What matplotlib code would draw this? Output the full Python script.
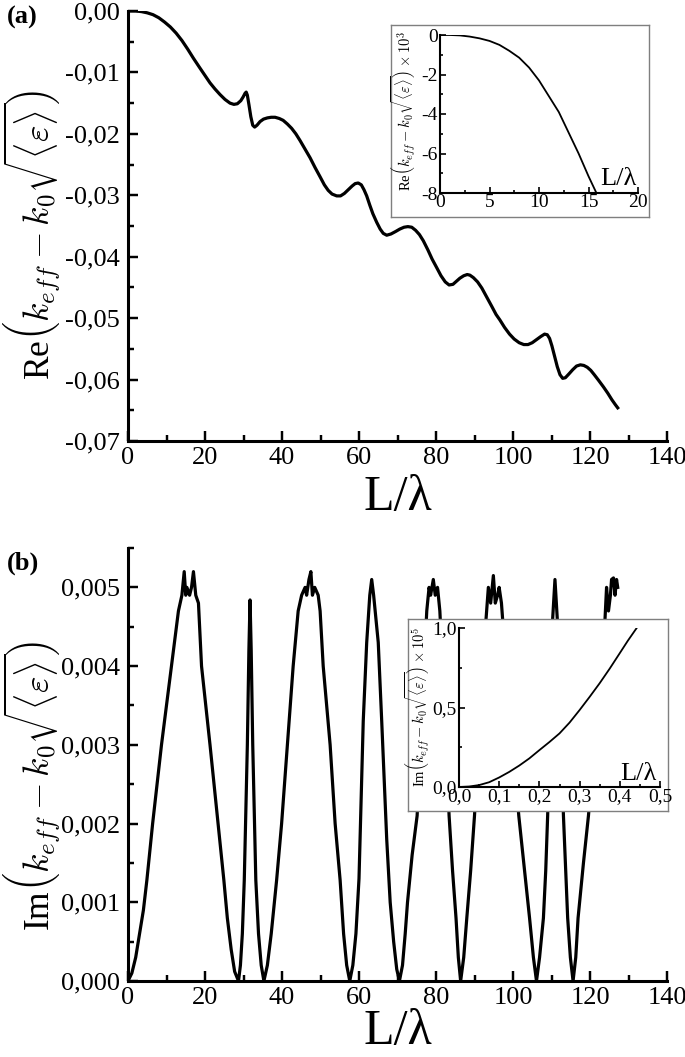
import numpy as np
import matplotlib
matplotlib.use("Agg")
import matplotlib.pyplot as plt
from matplotlib.ticker import MultipleLocator, FuncFormatter

# ============================================================
# Data
# ============================================================

# (a) Re(k_eff - k0 sqrt<eps>) vs L/lambda
re_x = [0, 2, 3.5, 5, 6.5, 8, 9.5, 11, 12.5, 14, 15.5, 17, 18.7, 20, 21.3, 22.6,
        23.9, 25.2, 26.5, 27.5, 28.4, 29.3, 29.9, 30.4, 30.7, 31.0, 31.4, 31.9,
        32.4, 32.9, 33.5, 34.3, 35.2, 36.2, 37.2, 38.2, 39.3, 40.3, 41.4, 42.5,
        43.6, 44.7, 46.0, 47.3, 48.6, 49.9, 51.0, 52.0, 53.0, 54.2, 55.2, 56.2,
        57.2, 58.2, 59.0, 59.8, 60.6, 61.3, 62.0, 62.8, 63.6, 64.6, 65.5, 66.3,
        67.2, 68.3, 69.5, 70.6, 71.7, 72.7, 73.7, 74.7, 75.7, 76.7, 77.9, 79.0,
        80.2, 81.3, 82.4, 83.4, 84.4, 85.3, 86.2, 87.2, 88.1, 88.8, 89.7, 90.8,
        91.9, 93.2, 94.5, 95.6, 96.6, 97.8, 99.1, 100.3, 101.6, 102.8, 103.9,
        105.0, 106.1, 107.2, 108.2, 108.9, 109.5, 110.1, 110.8, 111.5, 112.2,
        112.9, 113.6, 114.5, 115.5, 116.5, 117.5, 118.4, 119.3, 120.2, 121.1,
        122.2, 123.5, 124.6, 125.7, 126.6, 127.2]
re_y = [0, 0, -0.0001, -0.0003, -0.0006, -0.0011, -0.0018, -0.0026, -0.0036,
        -0.0048, -0.0062, -0.0077, -0.0093, -0.0105, -0.0117, -0.0127, -0.0136,
        -0.0144, -0.0150, -0.0152, -0.0151, -0.0146, -0.0140, -0.0134, -0.0132,
        -0.0137, -0.0152, -0.0172, -0.0186, -0.0189, -0.0186, -0.0180, -0.0176,
        -0.0174, -0.0173, -0.0173, -0.0175, -0.0178, -0.0184, -0.0191, -0.0200,
        -0.0211, -0.0225, -0.0239, -0.0255, -0.0270, -0.0283, -0.0292, -0.0298,
        -0.0301, -0.0301, -0.0297, -0.0291, -0.0285, -0.0281, -0.0280, -0.0283,
        -0.0291, -0.0301, -0.0316, -0.0330, -0.0344, -0.0355, -0.0362, -0.0365,
        -0.0363, -0.0359, -0.0355, -0.0352, -0.0351, -0.0352, -0.0357, -0.0364,
        -0.0374, -0.0389, -0.0404, -0.0418, -0.0431, -0.0441, -0.0446, -0.0445,
        -0.0440, -0.0435, -0.0431, -0.0429, -0.0430, -0.0434, -0.0441, -0.0451,
        -0.0466, -0.0481, -0.0494, -0.0503, -0.0515, -0.0526, -0.0534, -0.0540,
        -0.0543, -0.0543, -0.0540, -0.0535, -0.0530, -0.0526, -0.0527, -0.0533,
        -0.0545, -0.0562, -0.0579, -0.0592, -0.0598, -0.0597, -0.0591, -0.0584,
        -0.0578, -0.0576, -0.0577, -0.0580, -0.0585, -0.0592, -0.0601, -0.0612,
        -0.0622, -0.0633, -0.0641, -0.0646]

# (a) inset, values x 10^3
re_in_x = [0, 1, 2, 3, 4, 5, 6, 7, 8, 9, 10, 11, 12, 13, 14, 15, 15.8]
re_in_y = [0, 0, -0.02, -0.08, -0.17, -0.3, -0.5, -0.8, -1.15, -1.65, -2.3,
           -3.1, -3.9, -4.95, -6.0, -7.15, -8.0]

# (b) Im(k_eff - k0 sqrt<eps>) vs L/lambda
im_x = [0, 1, 2, 3, 4, 4.9, 6.4, 8.7, 11.3, 13.1, 14.0, 14.6, 15.0, 15.3, 16.0,
        16.5, 17.0, 17.6, 18.3, 19.1, 21.3, 23.4, 24.9, 25.8, 26.8, 27.7, 28.7,
        29.2, 29.7, 30.2, 31.0, 31.4, 31.7, 32.0, 32.4, 33.2, 33.9, 34.6, 35.3,
        36.2, 37.2, 38.6, 39.9, 41.4, 42.9, 44.2, 45.1, 46.0, 46.4, 47.0, 47.5,
        47.9, 48.5, 49.4, 49.9, 50.7, 52.5, 53.8, 55.1, 56.0, 56.8, 57.6,
        58.4, 59.2, 60.0, 61.1, 62.0, 62.8, 63.3, 63.8, 65.0, 65.9, 67.2, 68.1,
        69.0, 69.8, 70.5,
        71.3, 72.0, 72.6, 73.8, 75.1, 76.4, 77.6, 78.2, 78.6, 79.3, 79.8, 80.4,
        81.0, 82.2, 83.4, 84.3, 85.2, 85.8, 86.4,
        87.2, 88.0, 89.0, 90.0, 91.5, 93.0, 93.6, 94.2, 94.9, 95.4, 96.0, 96.4,
        97.0, 97.3, 99.4, 101.5, 103.0, 104.3, 105.3, 106.1,
        106.9, 107.9, 108.5, 109.0, 109.7, 110.3, 110.9, 111.5, 112.3, 113.1,
        113.7, 114.2, 114.9, 115.6,
        116.3, 116.9, 118.3, 119.6, 121.8, 123.9, 124.3, 124.8, 125.3, 125.6,
        126.1, 126.5, 126.9, 127.2]
im_y = [0, 0.0001, 0.0003, 0.0006, 0.0009, 0.00128, 0.0020, 0.0030, 0.0040,
        0.0047, 0.0049, 0.0052, 0.0049, 0.0050, 0.0049, 0.0050, 0.0052, 0.0049,
        0.0048, 0.0040, 0.0030, 0.0020, 0.00128, 0.0008, 0.0004, 0.00012, 0,
        0.0002, 0.0006, 0.00128, 0.0030, 0.0042, 0.00484, 0.0042, 0.0030,
        0.00128, 0.0006, 0.0002, 0,
        0.0002, 0.0006, 0.00128, 0.0020, 0.0030, 0.0040, 0.0047, 0.0049, 0.0050,
        0.0049, 0.0051, 0.0052, 0.0049, 0.0050, 0.0049, 0.0047, 0.0040, 0.0030,
        0.0020, 0.00128, 0.0006, 0.0002, 0,
        0.0002, 0.0006, 0.0013, 0.0033, 0.0043, 0.0049, 0.0051, 0.0049, 0.0043,
        0.0033, 0.0018, 0.0010, 0.0005, 0.00015, 0,
        0.0002, 0.0006, 0.0010, 0.0016, 0.0021, 0.0035, 0.0047, 0.0050, 0.0049,
        0.0051, 0.0049, 0.0050, 0.0047, 0.0035, 0.0021, 0.0014, 0.0008, 0.0003,
        0,
        0.0003, 0.0008, 0.0014, 0.0021, 0.0034, 0.0046, 0.0050, 0.0048, 0.00515,
        0.0048, 0.0049, 0.0050, 0.0048, 0.0046, 0.0034, 0.0021, 0.0014, 0.0008,
        0.0003, 0,
        0.0003, 0.0008, 0.0014, 0.0021, 0.0034, 0.0046, 0.0051, 0.0046, 0.0034,
        0.0021, 0.0014, 0.0008, 0.0003, 0,
        0.0003, 0.0008, 0.0015, 0.0021, 0.0034, 0.0046, 0.0050, 0.0047, 0.0049,
        0.0051, 0.00512, 0.0049, 0.0051, 0.0050]

# (b) inset, values x 10^5
im_in_x = [0, 0.025, 0.05, 0.075, 0.1, 0.125, 0.15, 0.175, 0.2, 0.225, 0.25,
           0.275, 0.3, 0.325, 0.35, 0.375, 0.4, 0.42, 0.442]
im_in_y = [0, 0.003, 0.012, 0.03, 0.06, 0.095, 0.135, 0.18, 0.232, 0.283, 0.337,
           0.405, 0.484, 0.567, 0.653, 0.745, 0.842, 0.92, 1.0]

W, H = 685, 1057

MATH = r"\left(k_{eff}-k_0\sqrt{\langle\varepsilon\rangle}\right)"
RE_LABEL = "Re$" + MATH + "$"
IM_LABEL = "Im$" + MATH + "$"
RE_IN_LABEL = "Re$" + MATH + r"\times10^3$"
IM_IN_LABEL = "Im$" + MATH + r"\times10^5$"


def comma(fmt):
    return FuncFormatter(lambda v, pos: (fmt % v).replace(".", ","))


def style_axes(ax, lw, major, minor, size, xpad, ypad):
    for s in ["top", "right"]:
        ax.spines[s].set_visible(False)
    for s in ["left", "bottom"]:
        ax.spines[s].set_linewidth(lw)
    ax.tick_params(which="major", direction="in", length=major, width=lw * 0.8,
                   labelsize=size)
    ax.tick_params(which="minor", direction="in", length=minor, width=lw * 0.8)
    ax.tick_params(axis="x", which="major", pad=xpad)
    ax.tick_params(axis="y", which="major", pad=ypad)


def px_box(x0, y0, x1, y1):
    return [x0 / W, 1 - y1 / H, (x1 - x0) / W, (y1 - y0) / H]


def frame(fig, rect):
    f = fig.add_axes(rect)
    f.set_xticks([])
    f.set_yticks([])
    for s in f.spines.values():
        s.set_color("#7f7f7f")
        s.set_linewidth(1.0)
    return f


plt.rcParams["font.family"] = ["Liberation Serif", "DejaVu Serif"]
plt.rcParams["mathtext.fontset"] = "cm"

fig = plt.figure(figsize=(W / 100, H / 100), dpi=100)

LABEL = 25.5
TICK = 19
XLAB = 36

# ---------------- (a) ----------------
ax1 = fig.add_axes(px_box(128, 11, 667, 441))
ax1.plot(re_x, re_y, color="black", lw=2.3)
ax1.set_xlim(0, 140)
ax1.set_ylim(-0.07, 0)
ax1.xaxis.set_major_locator(MultipleLocator(20))
ax1.xaxis.set_minor_locator(MultipleLocator(10))
ax1.yaxis.set_major_locator(MultipleLocator(0.01))
ax1.yaxis.set_minor_locator(MultipleLocator(0.005))
ax1.yaxis.set_major_formatter(comma("%.2f"))
style_axes(ax1, 2.2, 7, 4, TICK, 4, 6)
ax1.set_xlabel("L/λ", fontsize=XLAB, labelpad=4)
ax1.set_ylabel(RE_LABEL, fontsize=LABEL)
ax1.yaxis.set_label_coords(-0.12, 0.48)

frame(fig, px_box(391, 25, 649, 217))
in1 = fig.add_axes(px_box(440, 35, 638, 193))
in1.plot(re_in_x, re_in_y, color="black", lw=1.3)
in1.set_xlim(0, 20)
in1.set_ylim(-8, 0)
in1.xaxis.set_major_locator(MultipleLocator(5))
in1.xaxis.set_minor_locator(MultipleLocator(2.5))
in1.yaxis.set_major_locator(MultipleLocator(2))
in1.yaxis.set_minor_locator(MultipleLocator(1))
in1.yaxis.set_major_formatter(comma("%d"))
style_axes(in1, 1.5, 4, 2.5, 14, 0.5, 1.5)
in1.set_ylabel(RE_IN_LABEL, fontsize=10.5)
in1.yaxis.set_label_coords(-0.11, 0.52)
in1.text(0.995, 0.02, "L/λ", transform=in1.transAxes, ha="right",
         va="bottom", fontsize=19)

# ---------------- (b) ----------------
ax2 = fig.add_axes(px_box(128, 548, 667, 981))
ax2.plot(im_x, im_y, color="black", lw=2.3)
ax2.set_xlim(0, 140)
ax2.set_ylim(0, 0.0055)
ax2.xaxis.set_major_locator(MultipleLocator(20))
ax2.xaxis.set_minor_locator(MultipleLocator(10))
ax2.yaxis.set_major_locator(MultipleLocator(0.001))
ax2.yaxis.set_minor_locator(MultipleLocator(0.0005))
ax2.yaxis.set_major_formatter(comma("%.3f"))
style_axes(ax2, 2.2, 7, 4, TICK, 4, 6)
ax2.set_xlabel("L/λ", fontsize=XLAB, labelpad=0)
ax2.set_ylabel(IM_LABEL, fontsize=LABEL)
ax2.yaxis.set_label_coords(-0.12, 0.45)

frame(fig, px_box(408, 619, 668, 811))
in2 = fig.add_axes(px_box(459, 628, 660, 787))
in2.plot(im_in_x, im_in_y, color="black", lw=1.3)
in2.set_xlim(0, 0.5)
in2.set_ylim(0, 1.0)
in2.xaxis.set_major_locator(MultipleLocator(0.1))
in2.xaxis.set_minor_locator(MultipleLocator(0.05))
in2.yaxis.set_major_locator(MultipleLocator(0.5))
in2.yaxis.set_minor_locator(MultipleLocator(0.25))
in2.xaxis.set_major_formatter(comma("%.1f"))
in2.yaxis.set_major_formatter(comma("%.1f"))
style_axes(in2, 1.5, 4, 2.5, 14, 0.5, 1.5)
in2.set_ylabel(IM_IN_LABEL, fontsize=10.5)
in2.yaxis.set_label_coords(-0.135, 0.5)
in2.text(0.985, 0.015, "L/λ", transform=in2.transAxes, ha="right",
         va="bottom", fontsize=19)

fig.text(7 / W, 1 - 17 / H, "(a)", fontsize=19, fontweight="bold", va="center")
fig.text(7 / W, 1 - 563 / H, "(b)", fontsize=19, fontweight="bold", va="center")

fig.savefig("out.png", dpi=100)
